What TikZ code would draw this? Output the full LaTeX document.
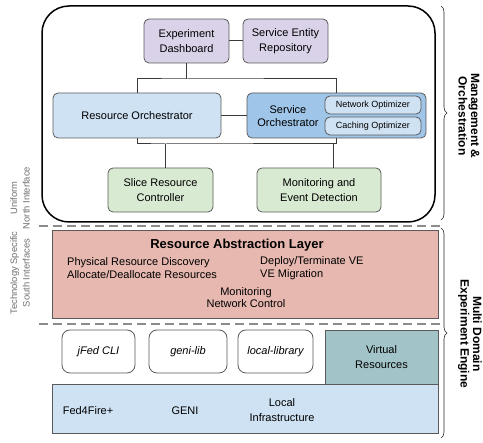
\documentclass[tikz,border=0pt]{standalone}
\usepackage{fontspec}
\setmainfont{Liberation Sans}
\usetikzlibrary{decorations.pathreplacing}
\definecolor{mgmtpurple}{HTML}{D9D2E9}
\definecolor{orchblue}{HTML}{CFE2F3}
\definecolor{servblue}{HTML}{9FC5E8}
\definecolor{ctrlgreen}{HTML}{D9EAD3}
\definecolor{ralpink}{HTML}{E6B8AF}
\definecolor{virtteal}{HTML}{A2C4C9}
\definecolor{boxgray}{HTML}{5A5A5A}
\definecolor{wiregray}{HTML}{3A3A3A}
\definecolor{dashgray}{HTML}{8C8C8C}
\definecolor{ifacegray}{HTML}{707070}

\begin{document}
\begin{tikzpicture}[x=1pt, y=-1pt,
    block/.style={draw=boxgray, line width=0.8pt, rounded corners=5pt, align=center, inner sep=0pt,
        font=\fontsize{11}{14.5}\selectfont},
    optbox/.style={block, fill=orchblue, minimum width=96pt, minimum height=18pt, font=\fontsize{9}{11}\selectfont},
    libbox/.style={block, fill=white, rounded corners=8pt, minimum width=75pt, minimum height=43pt,
        font=\itshape\fontsize{11}{14}\selectfont},
    plain/.style={align=center, inner sep=0pt, font=\fontsize{11}{14.5}\selectfont},
    ralitem/.style={align=left, inner sep=0pt, font=\fontsize{11}{12.6}\selectfont},
    wire/.style={draw=wiregray, line width=1pt},
    divider/.style={draw=dashgray, line width=1.6pt, dash pattern=on 9pt off 5pt},
    ifacelabel/.style={rotate=90, align=center, text=ifacegray, font=\fontsize{9.4}{12.5}\selectfont},
    layerlabel/.style={rotate=-90, align=center, font=\bfseries\fontsize{12}{12.5}\selectfont},
    layerbrace/.style={draw=black!85, line width=0.6pt, decorate, decoration={brace, amplitude=6pt}}]

    \useasboundingbox (0,0) rectangle (483,443);

    \draw[line width=1.5pt, rounded corners=27pt] (42,6) rectangle (435,222);

    \node[block, fill=mgmtpurple, minimum width=85pt, minimum height=44pt] (dash) at (186.5,41) {Experiment\\Dashboard};
    \node[block, fill=mgmtpurple, minimum width=85pt, minimum height=44pt] (repo) at (285.5,41) {Service Entity\\Repository};

    \node[block, fill=orchblue, minimum width=168pt, minimum height=45pt] (resorch) at (137,115.5) {Resource Orchestrator};
    \node[block, fill=servblue, minimum width=179pt, minimum height=45pt] (servorch) at (336.5,115.5) {};
    \node[plain, font=\fontsize{11}{13.5}\selectfont] (servlabel) at (288,116) {Service\\Orchestrator};
    \node[optbox] (netopt) at (373,105) {Network Optimizer};
    \node[optbox] (cacheopt) at (373,126) {Caching Optimizer};

    \node[block, fill=ctrlgreen, minimum width=105pt, minimum height=44pt] (slice) at (160.5,190) {Slice Resource\\Controller};
    \node[block, fill=ctrlgreen, minimum width=124pt, minimum height=44pt] (monitor) at (319,190) {Monitoring and\\Event Detection};

    \coordinate (topbus) at (186.5,79);
    \coordinate (lowbus) at (165,144);
    \coordinate (lowbusr) at (333,144);
    \draw[wire] (dash) -- (repo);
    \draw[wire] (dash) -- (topbus);
    \draw[wire] (resorch.north) |- (topbus) -| (servorch.north);
    \draw[wire] (resorch) -- (servorch);
    \draw[wire] (resorch.south) |- (lowbus) -| (servorch.south);
    \draw[wire] (lowbus) -- (lowbus |- slice.north);
    \draw[wire] (lowbusr) -- (lowbusr |- monitor.north);

    \draw[divider] (39,226) -- (440,226);
    \draw[divider] (39,324) -- (440,324);

    \node[block, fill=ralpink, rounded corners=0pt, minimum width=386pt, minimum height=88pt] (ral) at (245,274) {};
    \node[plain, font=\bfseries\fontsize{13}{15}\selectfont] (raltitle) at (237,245) {Resource Abstraction Layer};
    \node[ralitem, anchor=west] (ralleft) at (67,268) {Physical Resource Discovery\\Allocate/Deallocate Resources};
    \node[ralitem, anchor=west] (ralright) at (260,268) {Deploy/Terminate VE\\VE Migration};
    \node[ralitem, align=center] (ralmid) at (246,297.5) {Monitoring\\Network Control};

    \node[libbox, minimum width=73pt] (jfed) at (98.5,351.5) {jFed CLI};
    \node[libbox, minimum width=78pt] (genilib) at (188,351.5) {geni-lib};
    \node[libbox] (locallib) at (275.5,351.5) {local-library};
    \node[block, fill=virtteal, rounded corners=0pt, minimum width=113pt, minimum height=54pt] (virtual) at (381.5,357) {Virtual\\Resources};

    \node[block, fill=orchblue, rounded corners=0pt, minimum width=386pt, minimum height=49pt] (infra) at (245,408.5) {};
    \node[plain] (fedfire) at (88,411) {Fed4Fire+};
    \node[plain] (geni) at (185,411) {GENI};
    \node[plain] (localinfra) at (282,410) {Local\\Infrastructure};

    \node[ifacelabel] (north) at (20,198) {Uniform\\North Interface};
    \node[ifacelabel] (south) at (20,273) {Technology Specific\\South Interfaces};

    \draw[layerbrace] (441,6) -- (441,220);
    \draw[layerbrace] (441,228) -- (441,438);
    \node[layerlabel] (mgmt) at (469,116) {Management \&\\Orchestration};
    \node[layerlabel] (engine) at (470,334) {Multi Domain\\Experiment Engine};
\end{tikzpicture}
\end{document}
